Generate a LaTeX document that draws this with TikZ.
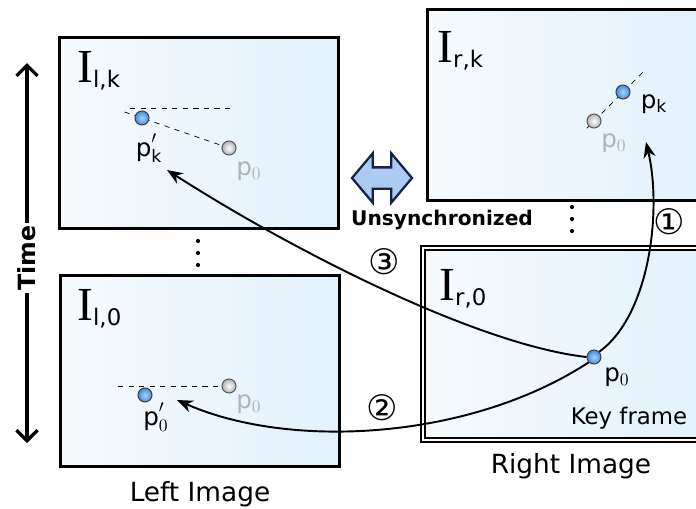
\documentclass[tikz,border=0pt]{standalone}
\usepackage{fontspec}
\setmainfont{DejaVu Sans}
\newfontfamily\serifI{Liberation Serif}
\usetikzlibrary{shapes.arrows,calc,arrows.meta}

\definecolor{framebg}{RGB}{226,241,251}
\definecolor{framelt}{RGB}{246,250,253}
\definecolor{dotblue}{RGB}{60,140,230}
\definecolor{syncfill}{RGB}{172,203,242}
\definecolor{syncline}{RGB}{20,35,70}

\tikzset{
  imgframe/.style={draw,line width=1.7pt,left color=framelt,right color=framebg,
    minimum width=5.58cm,minimum height=3.82cm,inner sep=0pt},
  keyframe/.style={imgframe,line width=1.1pt,double=white,double distance=1.1pt},
  bluedot/.style={circle,draw=black!75,line width=0.6pt,inner color=white!60!dotblue,
    outer color=dotblue,minimum size=0.28cm,inner sep=0pt},
  graydot/.style={circle,draw=black!65,line width=0.6pt,inner color=white,
    outer color=black!30,minimum size=0.28cm,inner sep=0pt},
  ptlabel/.style={font=\fontsize{14}{14}\selectfont,inner sep=0pt},
  ghost/.style={ptlabel,text=black!30},
  framelabel/.style={anchor=base west,inner sep=0pt},
  caption/.style={font=\fontsize{15}{15}\selectfont},
  stepnum/.style={font=\fontsize{20}{20}\selectfont,inner sep=0pt},
  track/.style={line width=1.1pt,-{Stealth[length=9pt,width=7pt]}}
}
\newcommand\ilabel[2]{{\serifI\fontsize{27}{27}\selectfont I}\raisebox{-3pt}{\fontsize{13}{13}\selectfont #1,#2}}

\begin{document}
\begin{tikzpicture}[x=0.02cm,y=-0.02cm,>=stealth]
\useasboundingbox (0,0) rectangle (696,508);
\clip (0,0) rectangle (696,508);

% image frames
\node[imgframe] (lk) at (199,133) {};
\node[imgframe] (l0) at (200,371) {};
\node[imgframe,minimum width=5.8cm] (rk) at (572,105) {};
\node[keyframe,minimum width=5.8cm,minimum height=3.84cm] (r0) at (568,344) {};

\node[framelabel] (lklab) at (77,82) {\ilabel{l}{k}};
\node[framelabel] (l0lab) at (77,320) {\ilabel{l}{0}};
\node[framelabel] (rklab) at (437,62) {\ilabel{r}{k}};
\node[framelabel] (r0lab) at (439,300) {\ilabel{r}{0}};

% dashed guides first, dots on top
\coordinate (lkgc) at (229,148);
\coordinate (lkbc) at (142,118);
\coordinate (rkgc) at (594,121);
\coordinate (rkbc) at (623,92);
\draw[dashed,thin] (130,108) -- (230,108);
\draw[dashed,thin] ($(lkbc)!-0.2!(lkgc)$) -- (lkgc);
\draw[dashed,thin] (118,386) -- (229,386);
\draw[dashed,thin] ($(rkgc)!-0.25!(rkbc)$) -- ($(rkgc)!1.75!(rkbc)$);

% left image, frame k
\node[graydot] (lkg) at (lkgc) {};
\node[bluedot] (lkb) at (lkbc) {};
\node[ptlabel] (lkbl) at (149,148) {$\mathrm{p}'_{\mathrm{k}}$};
\node[ghost] (lkgl) at (249,171) {$\mathrm{p}_{0}$};

% left image, frame 0
\node[graydot] (l0g) at (229,386) {};
\node[bluedot] (l0b) at (145,395) {};
\node[ptlabel] (l0bl) at (156,417) {$\mathrm{p}'_{0}$};
\node[ghost] (l0gl) at (249,404) {$\mathrm{p}_{0}$};

% right image, frame k
\node[graydot] (rkg) at (rkgc) {};
\node[bluedot] (rkb) at (rkbc) {};
\node[ptlabel] (rkbl) at (654,104) {$\mathrm{p}_{\mathrm{k}}$};
\node[ghost] (rkgl) at (614,143) {$\mathrm{p}_{0}$};

% right image, key frame
\node[bluedot] (r0b) at (594,357) {};
\node[ptlabel] (r0bl) at (617,377) {$\mathrm{p}_{0}$};
\node[font=\fontsize{13}{13}\selectfont] (key) at (629,418) {Key frame};

% captions
\node[caption] (leftcap) at (200,494) {Left Image};
\node[caption] (rightcap) at (571,466) {Right Image};

% time axis
\node[rotate=90,font=\bfseries\fontsize{13.5}{13.5}\selectfont,inner sep=1pt] (time) at (27,258) {Time};
\draw[line width=1.9pt,-{Straight Barb[length=6pt,width=12pt]}] (time.east) -- (27,63);
\draw[line width=1.9pt,-{Straight Barb[length=6pt,width=12pt]}] (time.west) -- (27,443);
\foreach \y in {241,253,265} \fill (198,\y) circle (1.2pt);
\foreach \y in {207,219,231} \fill (572,\y) circle (1.2pt);

% synchronisation
\node[double arrow,draw=syncline,line width=1.3pt,fill=syncfill,
  minimum height=1.2cm,minimum width=0.96cm,inner sep=0.19cm,
  double arrow head extend=0.28cm,double arrow tip angle=100] (sync) at (382,178) {};
\node[font=\bfseries\fontsize{11.5}{11.5}\selectfont] (unsync) at (442,220) {Unsynchronized};

% tracking steps
\draw[track] (r0b.north east) .. controls (650,315) and (662,210) .. (646,142);
\draw[track] (r0b.west) .. controls (480,345) and (300,255) .. (167,170);
\draw[track] (r0b.south west) .. controls (470,440) and (290,450) .. (177,400);
\node[stepnum] (s1) at (669,222) {①};
\node[stepnum] (s3) at (384,262) {③};
\node[stepnum] (s2) at (382,408) {②};
\end{tikzpicture}
\end{document}
